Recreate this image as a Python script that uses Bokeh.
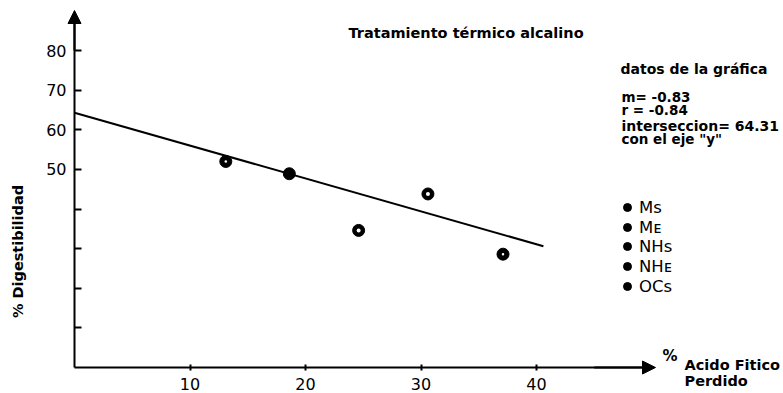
import numpy as np
from bokeh.plotting import figure
from bokeh.models import (Range1d, FixedTicker, LinearAxis, Label, Arrow, NormalHead,
                          Legend, LegendItem)
from bokeh.embed import file_html
from bokeh.resources import INLINE

# --- datos ---------------------------------------------------------------
series = ["Ms", "Mᴇ", "NHs", "NHᴇ", "OCs"]
acido_perdido = [13.1, 18.6, 24.6, 30.6, 37.1]      # % ácido fítico perdido
digestibilidad = [52.0, 48.9, 34.6, 43.8, 28.6]     # % digestibilidad
pendiente = -0.83
r_corr = -0.84
interseccion = 64.31
recta_x = [0.0, 40.6]                                # extensión de la recta ajustada
x_ticks = [10, 20, 30, 40]
y_ticks_rotulados = [50, 60, 70, 80]
y_ticks_menores = [10, 20, 30, 40]

# --- lienzo y escalas ----------------------------------------------------
W, H = 783, 393
X0, Y0 = 74, 367            # origen de los ejes en pixeles (desde izquierda / arriba)
SX, SY = 11.55, 3.9625      # pixeles por unidad


def dx(px):
    return (px - X0) / SX


def dy(py):
    return (Y0 - py) / SY


p = figure(width=W, height=H, output_backend="svg", toolbar_location=None,
           x_range=Range1d(dx(0), dx(W)), y_range=Range1d(dy(H), dy(0)),
           x_axis_location=None, y_axis_location=None, min_border=0)
p.outline_line_color = None
p.background_fill_color = "white"
p.border_fill_color = "white"
p.grid.visible = False

FONT = "DejaVu Sans"

# --- ejes ------------------------------------------------------------------
xa = LinearAxis(fixed_location=0, bounds=(0, 49.5),
                ticker=FixedTicker(ticks=x_ticks, minor_ticks=[]))
xa.axis_line_width = 2
xa.axis_line_color = "black"
xa.major_tick_line_width = 2
xa.major_tick_in = 3
xa.major_tick_out = 3
xa.minor_tick_line_color = None
xa.major_label_standoff = 7
xa.major_label_text_font = FONT
xa.major_label_text_font_size = "16px"
xa.major_label_text_color = "black"
p.add_layout(xa, "below")

ya = LinearAxis(fixed_location=0, bounds=(0, 88),
                ticker=FixedTicker(ticks=y_ticks_rotulados, minor_ticks=y_ticks_menores))
ya.axis_line_width = 2
ya.axis_line_color = "black"
ya.major_tick_line_width = 2
ya.major_tick_in = 7
ya.major_tick_out = 0
ya.minor_tick_line_width = 2
ya.minor_tick_line_color = "black"
ya.minor_tick_in = 7
ya.minor_tick_out = 0
ya.major_label_standoff = 8
ya.major_label_text_font = FONT
ya.major_label_text_font_size = "16px"
ya.major_label_text_color = "black"
p.add_layout(ya, "left")

# flechas de los ejes
p.add_layout(Arrow(end=NormalHead(size=13, fill_color="black", line_color="black"),
                   x_start=0, y_start=80, x_end=0, y_end=dy(10),
                   line_width=2, line_color="black"))
p.add_layout(Arrow(end=NormalHead(size=13, fill_color="black", line_color="black"),
                   x_start=45, y_start=0, x_end=dx(655), y_end=0,
                   line_width=2, line_color="black"))

# --- recta de regresión ----------------------------------------------------
recta_y = [interseccion + pendiente * x for x in recta_x]
p.line(recta_x, recta_y, line_width=2, line_color="black")

# --- puntos y leyenda (una entrada por serie, apiladas con paso de 20 px) --
centro_blanco = {"Ms": 2.5, "Mᴇ": 0, "NHs": 4, "NHᴇ": 4, "OCs": 2.5}
LEYENDA_X, LEYENDA_Y0, LEYENDA_PASO = 617, 207, 19.7
for i, (s, xv, yv) in enumerate(zip(series, acido_perdido, digestibilidad)):
    negro = p.scatter([xv], [yv], marker="circle", size=12,
                      fill_color="black", line_color="black")
    if centro_blanco[s]:
        p.scatter([xv], [yv], marker="circle", size=centro_blanco[s],
                  fill_color="white", line_color=None)
    centro = LEYENDA_Y0 + i * LEYENDA_PASO
    leyenda = Legend(items=[LegendItem(label=s, renderers=[negro])],
                     location=(LEYENDA_X, round(H - centro - 10)),
                     padding=0, margin=0, spacing=0,
                     glyph_width=20, glyph_height=20, label_height=18,
                     label_standoff=2, label_text_font=FONT,
                     label_text_font_size="16.5px", label_text_color="black",
                     border_line_color=None, background_fill_alpha=0)
    p.add_layout(leyenda)

# --- textos ----------------------------------------------------------------
def texto(px, py, t, size="12px", bold=True, align="left", angle=0.0):
    p.add_layout(Label(x=dx(px), y=dy(py), text=t, text_font=FONT,
                       text_font_size=size, text_font_style="bold" if bold else "normal",
                       text_align=align, text_baseline="middle", angle=angle,
                       text_color="black"))


texto(348, 32, "Tratamiento  térmico alcalino", size="14.5px")
texto(620, 68, "datos de la gráfica", size="14px")
texto(621, 96, f"m= {pendiente:.2f}", size="13.5px")
texto(621, 109, f"r = {r_corr:.2f}", size="13.5px")
texto(621, 125, f"interseccion= {interseccion:.2f}", size="14px")
texto(621, 138, 'con el eje "y"', size="13.5px")

texto(17, 251, "% Digestibilidad", size="14.5px", align="center", angle=np.pi / 2)

texto(662, 355, "%", size="15px")
texto(684, 364, "Acido Fitico", size="14.5px")
texto(684, 380, "Perdido", size="14.5px")

open("out.html", "w").write(file_html(p, INLINE))
